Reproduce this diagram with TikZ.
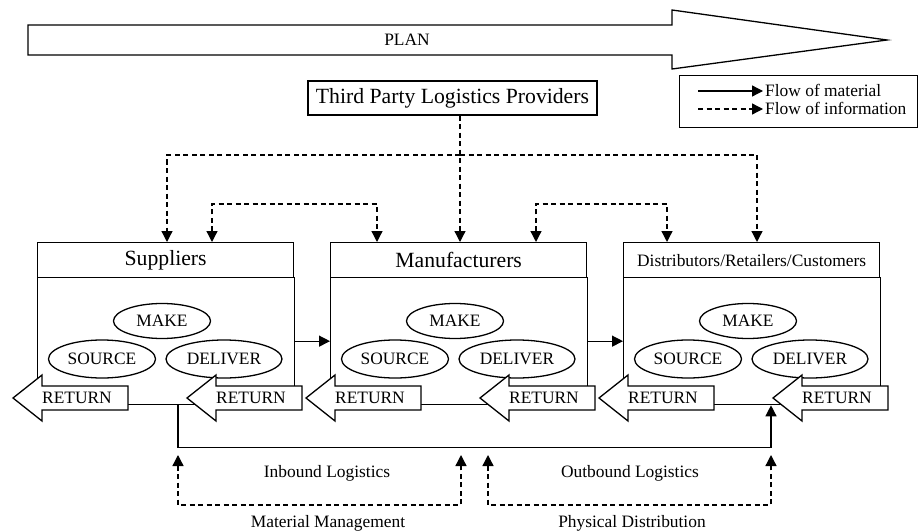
\documentclass[tikz,border=0pt]{standalone}
\usepackage{fontspec}
\setmainfont{Liberation Serif}
\usetikzlibrary{arrows.meta,shapes.geometric,calc}

\tikzset{
  lw/.style={line width=1.3pt},
  box/.style={draw, lw, inner sep=0pt},
  small/.style={font=\fontsize{17.4}{20}\selectfont},
  large/.style={font=\fontsize{21.7}{25}\selectfont},
  oval/.style={draw, ellipse, lw, inner sep=0pt, small},
  tip/.style={-{Triangle[length=11pt,width=11pt]}},
  info/.style={lw, dash pattern=on 5pt off 3.5pt, tip},
  matl/.style={lw, tip},
  retshape/.style={draw, lw, fill=white, line join=miter},
}

% one supply-chain stage: #1 left x, #2 name, #3 header text, #4 header font
\newcommand\chainstage[4]{%
  \node[box, #4, minimum width=256pt, minimum height=35pt, anchor=north west]
    (#2-head) at (#1,242) {#3};
  \node[box, minimum width=257pt, minimum height=127pt, anchor=north west]
    (#2-body) at (#1,277) {};
  \node[oval, minimum width=97pt, minimum height=35pt] (#2-make) at ({#1+125},321) {MAKE};
  \node[oval, minimum width=107pt, minimum height=38pt] (#2-source) at ({#1+65},359) {SOURCE};
  \node[oval, minimum width=116pt, minimum height=38pt] (#2-deliver) at ({#1+187},359) {DELIVER};
  \retarrow{#1-24}{#2-retin}
  \retarrow{#1+150}{#2-retout}
}

% left-pointing RETURN block arrow: #1 tip x, #2 name
\newcommand\retarrow[2]{%
  \draw[retshape] ({#1},398) -- ({#1+29},375) -- ({#1+29},386) -- ({#1+115},386)
    -- ({#1+115},410) -- ({#1+29},410) -- ({#1+29},421) -- cycle;
  \node[small, anchor=west, inner sep=0pt] (#2) at ({#1+29},398) {RETURN};
}

\begin{document}
\begin{tikzpicture}[x=1pt, y=-1pt]
\useasboundingbox (0,0) rectangle (918,532);

% PLAN block arrow
\draw[lw, line join=miter] (28,25) -- (672,25) -- (672,10) -- (887,40) -- (672,69)
  -- (672,55) -- (28,55) -- cycle;
\node[small] (plan) at (407,40) {PLAN};

% legend
\node[box, minimum width=238pt, minimum height=52pt, anchor=north west] (legend) at (679,75) {};
\coordinate (lg1a) at (698,91);
\coordinate (lg1b) at (763,91);
\coordinate (lg2a) at (698,109);
\coordinate (lg2b) at (763,109);
\draw[matl] (lg1a) -- (lg1b);
\draw[info] (lg2a) -- (lg2b);
\node[small, anchor=west, inner sep=0pt] (lgt1) at (765,90) {Flow of material};
\node[small, anchor=west, inner sep=0pt] (lgt2) at (765,108) {Flow of information};

% third party logistics providers
\node[box, large, minimum width=289pt, minimum height=34pt] (tpl) at (452.5,98)
  {Third Party Logistics Providers};

% the three stages
\chainstage{37}{sup}{Suppliers}{large}
\chainstage{330}{man}{Manufacturers}{large}
\chainstage{623}{dis}{Distributors/Retailers/Customers}{small}

% flow of information
\coordinate (hub) at (460,155);
\draw[info] (tpl.south -| hub) -- (hub |- man-head.north);
\draw[info] (hub) -| ([xshift=130pt]sup-head.north west);
\draw[info] (hub) -| ([xshift=134pt]dis-head.north west);
\draw[info, {Triangle[length=11pt,width=11pt]}-{Triangle[length=11pt,width=11pt]}]
  ([xshift=175pt]sup-head.north west) -- ++(0,-38) -| ([xshift=47pt]man-head.north west);
\draw[info, {Triangle[length=11pt,width=11pt]}-{Triangle[length=11pt,width=11pt]}]
  ([xshift=206pt]man-head.north west) -- ++(0,-38) -| ([xshift=44pt]dis-head.north west);

% flow of material
\draw[matl] (sup-body.east) -- (man-body.west);
\draw[matl] (man-body.east) -- (dis-body.west);
\draw[matl] ([xshift=141pt]sup-body.south west) -- ++(0,42) -| ([xshift=148pt]dis-body.south west);

% logistics brackets
\coordinate (inL) at (178,455);
\coordinate (inR) at (461,455);
\coordinate (outL) at (488,455);
\coordinate (outR) at (771,455);
\draw[info, {Triangle[length=11pt,width=11pt]}-{Triangle[length=11pt,width=11pt]}]
  (inL) -- ++(0,50) -| (inR);
\draw[info, {Triangle[length=11pt,width=11pt]}-{Triangle[length=11pt,width=11pt]}]
  (outL) -- ++(0,50) -| (outR);
\node[small] (inb) at (327,473) {Inbound Logistics};
\node[small] (outb) at (630,473) {Outbound Logistics};
\node[small] (mm) at (328,523) {Material Management};
\node[small] (pd) at (632,523) {Physical Distribution};
\end{tikzpicture}
\end{document}
